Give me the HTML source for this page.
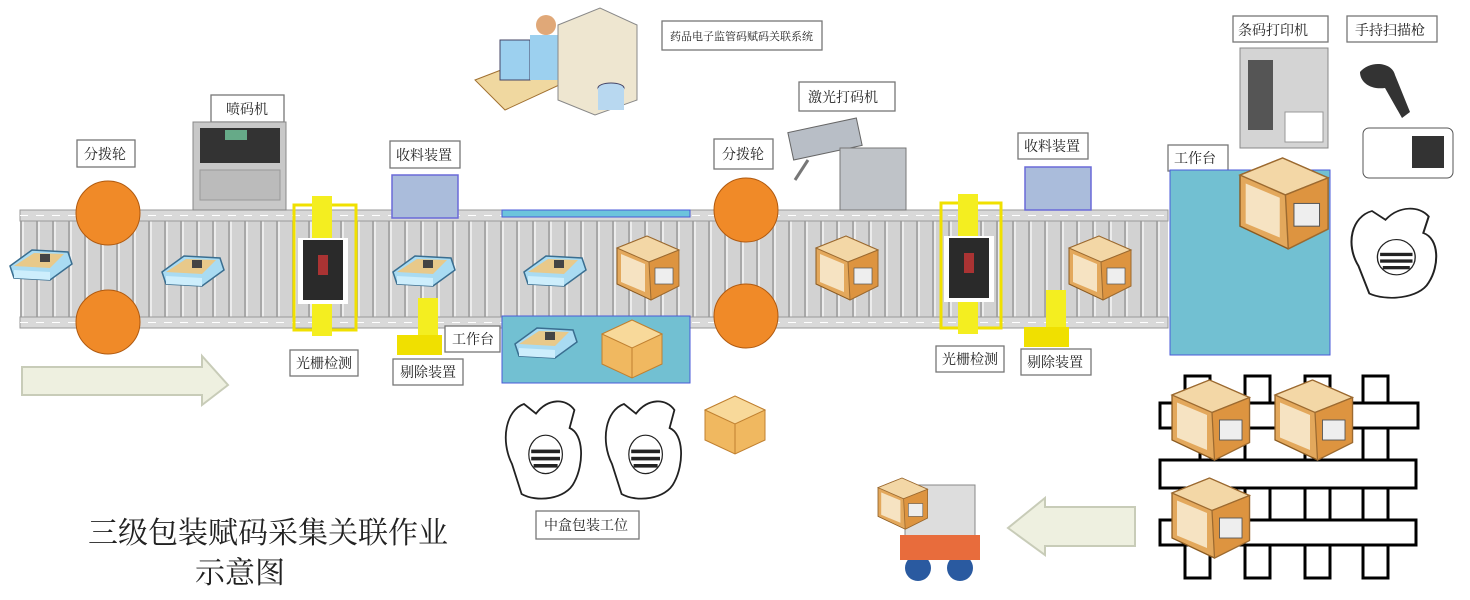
<!DOCTYPE html>
<html><head><meta charset="utf-8"><style>
body{margin:0;background:#fff}
svg{display:block}
text{font-family:"Liberation Serif","Noto Serif CJK SC",serif;fill:#222}
</style></head><body>
<svg width="1470" height="600" viewBox="0 0 1470 600" xmlns="http://www.w3.org/2000/svg">
<defs>
<pattern id="slat" x="20" y="0" width="16" height="600" patternUnits="userSpaceOnUse">
<rect width="16" height="600" fill="#d2d2d2"/><rect x="0" width="2" height="600" fill="#a8a8a8"/><rect x="2" width="2" height="600" fill="#ececec"/>
</pattern>
<g id="med">
<polygon points="0,22 22,6 58,8 62,20 40,36 4,34" fill="#a9dbf2" stroke="#3a6e90" stroke-width="1.5"/>
<polygon points="4,22 24,9 54,10 40,24" fill="#e8c98a"/>
<rect x="30" y="10" width="10" height="8" fill="#444"/>
<polygon points="4,26 40,28 40,36 4,34" fill="#cdeefc"/>
</g>
<g id="crate">
<polygon points="0,12 30,0 62,14 62,50 34,64 0,48" fill="#e3a85c" stroke="#8a5a20"/>
<polygon points="0,12 30,0 62,14 32,26" fill="#f3d7a6" stroke="#9c6a30"/>
<polygon points="32,26 62,14 62,50 34,64" fill="#dd9440" stroke="#9c6a30"/>
<polygon points="4,18 28,28 28,56 4,46" fill="#f6e3c2"/>
<rect x="38" y="32" width="18" height="16" fill="#eee" stroke="#555" stroke-width=".7"/>
</g>
<g id="cbox">
<polygon points="0,14 30,0 60,14 60,44 30,58 0,44" fill="#f0b860" stroke="#c08030"/>
<polygon points="0,14 30,28 60,14 30,0" fill="#f8d99a" stroke="#c08030"/>
<line x1="30" y1="28" x2="30" y2="58" stroke="#c08030"/>
</g>
<g id="person">
<path d="M10,60 C0,40 5,15 20,10 L30,18 C40,5 55,5 62,15 L58,30 C70,35 70,60 62,75 C55,90 30,92 18,85 Z" fill="#fff" stroke="#222" stroke-width="1.5"/>
<ellipse cx="38" cy="52" rx="14" ry="16" fill="#fff" stroke="#222"/>
<rect x="26" y="48" width="24" height="3" fill="#222"/><rect x="26" y="54" width="24" height="3" fill="#222"/><rect x="28" y="60" width="20" height="3" fill="#222"/>
</g>
</defs>

<rect x="20" y="210" width="1148" height="118" fill="url(#slat)"/>
<rect x="20" y="210" width="1148" height="11" fill="#d9d9d9" stroke="#999"/>
<rect x="20" y="317" width="1148" height="11" fill="#d9d9d9" stroke="#999"/>
<line x1="20" y1="215.5" x2="1168" y2="215.5" stroke="#fff" stroke-dasharray="8,8"/>
<line x1="20" y1="322.5" x2="1168" y2="322.5" stroke="#fff" stroke-dasharray="8,8"/>
<rect x="502" y="210" width="188" height="7" fill="#6cc4dc" stroke="#4a5ad8"/>

<g fill="#f08a28" stroke="#b05a10" stroke-width="1">
<circle cx="108" cy="213" r="32"/><circle cx="108" cy="322" r="32"/>
<circle cx="746" cy="210" r="32"/><circle cx="746" cy="316" r="32"/>
</g>

<g fill="#fff" stroke="#777" stroke-width="1.3">
<rect x="77" y="140" width="58" height="27"/>
<rect x="211" y="95" width="73" height="27"/>
<rect x="390" y="141" width="70" height="27"/>
<rect x="290" y="350" width="68" height="26"/>
<rect x="393" y="359" width="70" height="26"/>
<rect x="445" y="326" width="55" height="26"/>
<rect x="662" y="21" width="160" height="29"/>
<rect x="799" y="82" width="96" height="29"/>
<rect x="714" y="139" width="59" height="30"/>
<rect x="1018" y="133" width="70" height="26"/>
<rect x="1233" y="16" width="95" height="26"/>
<rect x="1347" y="16" width="90" height="26"/>
<rect x="1168" y="145" width="60" height="26"/>
<rect x="936" y="346" width="68" height="26"/>
<rect x="1021" y="349" width="70" height="26"/>
<rect x="536" y="511" width="103" height="28"/>
</g>
<g font-size="14">
<text x="84" y="159">分拨轮</text>
<text x="226" y="114">喷码机</text>
<text x="396" y="160">收料装置</text>
<text x="296" y="368">光栅检测</text>
<text x="400" y="377">剔除装置</text>
<text x="452" y="344">工作台</text>
<text x="670" y="40" font-size="11" font-family="Liberation Sans,Noto Sans CJK SC,sans-serif">药品电子监管码赋码关联系统</text>
<text x="808" y="102">激光打码机</text>
<text x="722" y="159">分拨轮</text>
<text x="1024" y="151">收料装置</text>
<text x="1238" y="35">条码打印机</text>
<text x="1355" y="35">手持扫描枪</text>
<text x="1174" y="163">工作台</text>
<text x="942" y="364">光栅检测</text>
<text x="1027" y="367">剔除装置</text>
<text x="544" y="530">中盒包装工位</text>
</g>

<rect x="392" y="175" width="66" height="43" fill="#aabcdb" stroke="#6a6ad8" stroke-width="1.5"/>
<rect x="1025" y="167" width="66" height="43" fill="#aabcdb" stroke="#6a6ad8" stroke-width="1.5"/>

<rect x="502" y="316" width="188" height="67" fill="#72c0d2" stroke="#4a5ad8"/>
<rect x="1170" y="170" width="160" height="185" fill="#72c0d2" stroke="#4a5ad8"/>

<rect x="193" y="122" width="93" height="88" fill="#c8c8c8" stroke="#888"/>
<rect x="200" y="128" width="80" height="35" fill="#333"/>
<rect x="225" y="130" width="22" height="10" fill="#6a8"/>
<rect x="200" y="170" width="80" height="30" fill="#bbb" stroke="#999"/>

<g fill="none" stroke="#f0e000" stroke-width="3">
<rect x="294" y="205" width="62" height="125"/>
<rect x="941" y="203" width="60" height="125"/>
</g>
<rect x="312" y="196" width="20" height="140" fill="#f4ee20"/>
<rect x="958" y="194" width="20" height="140" fill="#f4ee20"/>
<rect x="298" y="238" width="50" height="66" fill="#fff"/>
<rect x="944" y="236" width="50" height="66" fill="#fff"/>
<rect x="303" y="240" width="40" height="60" fill="#2a2a2a"/>
<rect x="949" y="238" width="40" height="60" fill="#2a2a2a"/>
<rect x="318" y="255" width="10" height="20" fill="#a33"/>
<rect x="964" y="253" width="10" height="20" fill="#a33"/>

<rect x="418" y="298" width="20" height="55" fill="#f4ee20"/>
<rect x="397" y="335" width="45" height="20" fill="#f0e000"/>
<rect x="1046" y="290" width="20" height="55" fill="#f4ee20"/>
<rect x="1024" y="327" width="45" height="20" fill="#f0e000"/>

<use href="#med" x="10" y="244"/>
<use href="#med" x="162" y="250"/>
<use href="#med" x="393" y="250"/>
<use href="#med" x="524" y="250"/>
<use href="#med" x="515" y="322"/>

<use href="#crate" x="617" y="236"/>
<use href="#crate" x="816" y="236"/>
<use href="#crate" x="1069" y="236"/>
<use href="#cbox" x="602" y="320"/>
<use href="#cbox" x="705" y="396"/>

<polygon points="475,80 540,55 570,80 505,110" fill="#f0d8a0" stroke="#a07030"/>
<rect x="500" y="40" width="30" height="40" fill="#9cd0ef" stroke="#446"/>
<circle cx="546" cy="25" r="10" fill="#e0a878"/>
<rect x="530" y="35" width="30" height="45" fill="#9cd0ef"/>
<polygon points="558,25 600,8 637,25 637,100 595,115 558,100" fill="#eee6d0" stroke="#888"/>
<ellipse cx="611" cy="88" rx="13" ry="5" fill="#b8d8f0" stroke="#446"/>
<rect x="598" y="88" width="26" height="22" fill="#b8d8f0"/>

<rect x="790" y="125" width="70" height="28" fill="#b8bec6" stroke="#666" transform="rotate(-12 825 139)"/>
<rect x="840" y="148" width="66" height="62" fill="#bfc3c8" stroke="#777"/>
<line x1="808" y1="160" x2="795" y2="180" stroke="#777" stroke-width="3"/>

<rect x="1240" y="48" width="88" height="100" fill="#d4d4d4" stroke="#888"/>
<rect x="1248" y="60" width="25" height="70" fill="#555"/>
<rect x="1285" y="112" width="38" height="30" fill="#fff" stroke="#999"/>
<path d="M1360,72 C1370,60 1392,62 1395,75 L1410,112 L1402,118 L1385,88 C1370,90 1360,82 1360,72Z" fill="#333"/>
<rect x="1363" y="128" width="90" height="50" rx="6" fill="#fff" stroke="#555"/>
<rect x="1412" y="136" width="32" height="32" fill="#333"/>

<use href="#crate" transform="translate(1240 158) scale(1.42)"/>
<use href="#person" transform="translate(1345 200) scale(1.35 1.1)"/>
<use href="#person" transform="translate(500 392) scale(1.2)"/>
<use href="#person" transform="translate(600 392) scale(1.2)"/>

<polygon points="22,367 202,367 202,356 228,385 202,405 202,395 22,395" fill="#eef0e0" stroke="#c8ccb8" stroke-width="2"/>
<polygon points="1135,507 1045,507 1045,498 1008,528 1045,555 1045,546 1135,546" fill="#eef0e0" stroke="#c8ccb8" stroke-width="2"/>

<g fill="#fff" stroke="#000" stroke-width="3">
<rect x="1185" y="376" width="25" height="30"/><rect x="1245" y="376" width="25" height="30"/><rect x="1305" y="376" width="25" height="30"/><rect x="1363" y="376" width="25" height="30"/>
<rect x="1160" y="403" width="258" height="25"/>
<rect x="1160" y="460" width="256" height="28"/>
<rect x="1160" y="520" width="256" height="25"/>
<rect x="1185" y="545" width="25" height="33"/><rect x="1245" y="545" width="25" height="33"/><rect x="1305" y="545" width="25" height="33"/><rect x="1363" y="545" width="25" height="33"/>
</g>
<g stroke="#000" stroke-width="3">
<line x1="1200" y1="428" x2="1200" y2="460"/><line x1="1245" y1="428" x2="1245" y2="460"/><line x1="1305" y1="428" x2="1305" y2="460"/><line x1="1363" y1="428" x2="1363" y2="460"/><line x1="1388" y1="428" x2="1388" y2="460"/>
<line x1="1245" y1="488" x2="1245" y2="520"/><line x1="1270" y1="488" x2="1270" y2="520"/><line x1="1305" y1="488" x2="1305" y2="520"/><line x1="1330" y1="488" x2="1330" y2="520"/><line x1="1363" y1="488" x2="1363" y2="520"/><line x1="1388" y1="488" x2="1388" y2="520"/>
</g>
<use href="#crate" transform="translate(1172 380) scale(1.25)"/>
<use href="#crate" transform="translate(1275 380) scale(1.25)"/>
<use href="#crate" transform="translate(1172 478) scale(1.25)"/>

<rect x="905" y="485" width="70" height="55" fill="#ddd" stroke="#888"/>
<use href="#crate" transform="translate(878 478) scale(0.8)"/>
<circle cx="918" cy="568" r="13" fill="#2a5aa0"/><circle cx="960" cy="568" r="13" fill="#2a5aa0"/>
<rect x="900" y="535" width="80" height="25" fill="#e86c3c"/>

<text x="88" y="543" font-size="30" font-family="Liberation Sans,Noto Sans CJK SC,sans-serif">三级包装赋码采集关联作业</text>
<text x="195" y="583" font-size="30" font-family="Liberation Sans,Noto Sans CJK SC,sans-serif">示意图</text>
</svg>
</body></html>
